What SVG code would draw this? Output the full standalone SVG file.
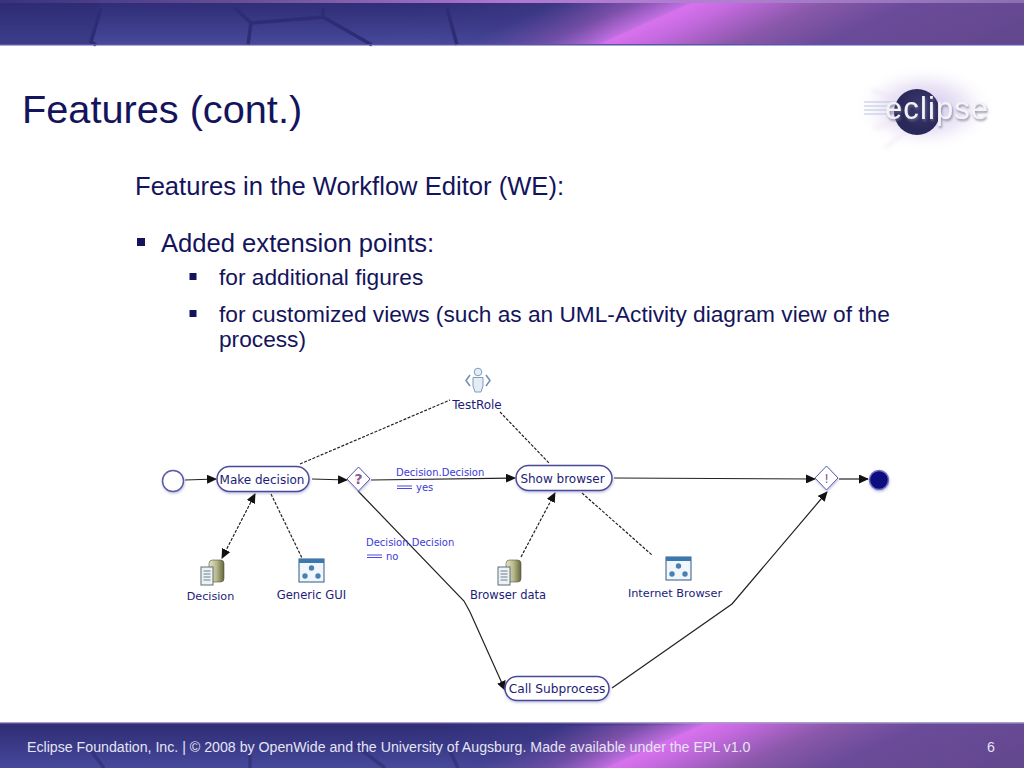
<svg xmlns="http://www.w3.org/2000/svg" width="1024" height="768" viewBox="0 0 1024 768">
<style>
.body{font-family:"Liberation Sans",Arial,sans-serif;fill:#14145c}
.lbl{font-family:"DejaVu Sans",Verdana,sans-serif;font-size:12px;fill:#1c1c78}
.cond{font-family:"DejaVu Sans",Verdana,sans-serif;font-size:10px;fill:#3a3ad8}
.pill{fill:#fff;stroke:#4a4a98;stroke-width:1.500;filter:url(#soft)}
.flow{fill:none;stroke:#222;stroke-width:1.200}
.dash{fill:none;stroke:#222;stroke-width:1.200;stroke-dasharray:3 1.500}
.dia{fill:#fff;stroke:#5a5aa8;stroke-width:1;filter:url(#soft)}
.crack{fill:none;stroke:#2e2c74;stroke-width:3.500}
.bullet{fill:#14145c}
</style>
<defs>
<marker id="arr" markerWidth="10" markerHeight="9" refX="9" refY="4.500" orient="auto" markerUnits="userSpaceOnUse"><path d="M0 0L10 4.500L0 9Z" fill="#111"/></marker>
<marker id="arrs" markerWidth="10" markerHeight="9" refX="1" refY="4.500" orient="auto" markerUnits="userSpaceOnUse"><path d="M10 0L0 4.500L10 9Z" fill="#111"/></marker>
<filter id="soft" x="-20%" y="-20%" width="140%" height="150%"><feDropShadow dx=".5" dy="1.500" stdDeviation="1" flood-color="#9a9ad0" flood-opacity=".6"/></filter>
<filter id="logoshadow" x="-10%" y="-20%" width="125%" height="150%"><feDropShadow dx="1" dy="2" stdDeviation="1.200" flood-color="#70708a" flood-opacity=".7"/></filter>
<filter id="blur2"><feGaussianBlur stdDeviation="2"/></filter>
<linearGradient id="band" gradientUnits="userSpaceOnUse" x1="605" y1="-78" x2="713" y2="162">
<stop offset="0" stop-color="#3a3784"/><stop offset=".2" stop-color="#3e3a88"/><stop offset=".325" stop-color="#7a50a8"/><stop offset=".41" stop-color="#c06ee0"/><stop offset=".418" stop-color="#d872ee"/><stop offset=".48" stop-color="#c66ae0"/><stop offset=".62" stop-color="#8a58aa"/><stop offset=".76" stop-color="#6a4b9a"/><stop offset="1" stop-color="#64488f"/>
</linearGradient>
<linearGradient id="footband" gradientUnits="userSpaceOnUse" x1="611" y1="646" x2="719" y2="886">
<stop offset="0" stop-color="#3a3784"/><stop offset=".2" stop-color="#3e3a88"/><stop offset=".325" stop-color="#7a50a8"/><stop offset=".41" stop-color="#c06ee0"/><stop offset=".418" stop-color="#d872ee"/><stop offset=".48" stop-color="#c66ae0"/><stop offset=".62" stop-color="#8a58aa"/><stop offset=".76" stop-color="#6a4b9a"/><stop offset="1" stop-color="#64488f"/>
</linearGradient>
<linearGradient id="shade" x1="0" y1="0" x2="0" y2="1"><stop offset="0" stop-color="#28266c" stop-opacity=".6"/><stop offset="1" stop-color="#4c50a4" stop-opacity=".75"/></linearGradient>
<linearGradient id="fade" x1="0" y1="0" x2="1" y2="0"><stop offset="0" stop-color="#fff"/><stop offset=".6" stop-color="#fff"/><stop offset=".85" stop-color="#000"/></linearGradient>
<mask id="fademask" maskContentUnits="userSpaceOnUse" maskUnits="userSpaceOnUse" x="0" y="0" width="1024" height="768"><rect x="0" y="0" width="720" height="768" fill="url(#fade)"/></mask>
<linearGradient id="topline" x1="0" y1="0" x2="1" y2="0"><stop offset="0" stop-color="#39337c"/><stop offset=".25" stop-color="#6a5098"/><stop offset=".5" stop-color="#b078d0"/><stop offset=".7" stop-color="#b080d0"/><stop offset="1" stop-color="#8a70b0"/></linearGradient>
<linearGradient id="footline" x1="0" y1="0" x2="1" y2="0"><stop offset="0" stop-color="#3c2c80" stop-opacity=".7"/><stop offset=".55" stop-color="#3c2c80" stop-opacity=".7"/><stop offset=".68" stop-color="#3c2c80" stop-opacity="0"/></linearGradient>
<radialGradient id="halo"><stop offset="0" stop-color="#c4b4e6" stop-opacity=".9"/><stop offset=".55" stop-color="#ded4f0" stop-opacity=".55"/><stop offset="1" stop-color="#fff" stop-opacity="0"/></radialGradient>
<radialGradient id="ball" cx=".6" cy=".4"><stop offset="0" stop-color="#3c3a72"/><stop offset="1" stop-color="#2a2858"/></radialGradient>
<linearGradient id="can" x1="0" y1="0" x2="1" y2="0"><stop offset="0" stop-color="#e4e4c8"/><stop offset=".5" stop-color="#b8b88c"/><stop offset="1" stop-color="#66663e"/></linearGradient>
<g id="db">
<rect x="8" y="0" width="15" height="22" rx="3.500" fill="url(#can)" stroke="#55553a" stroke-width=".6"/>
<rect x="0" y="7" width="12" height="18" fill="#eef2f4" stroke="#5a7078" stroke-width="1"/>
<path d="M2.500 11H9.500M2.500 14H9.500M2.500 17H9.500M2.500 20H9.500" stroke="#6a8090" stroke-width="1"/>
</g>
<g id="gui">
<rect x="0" y="0" width="25" height="23" fill="#f0f6fc" stroke="#2c5a88" stroke-width="1"/>
<rect x="0" y="0" width="25" height="4" fill="#3c78b0"/>
<circle cx="12.500" cy="9" r="2.700" fill="#4a80b0"/><circle cx="6" cy="17" r="2.700" fill="#4a80b0"/><circle cx="19" cy="17" r="2.700" fill="#4a80b0"/>
</g>
</defs>
<rect width="1024" height="768" fill="#fff"/>

<g id="header">
<rect width="1024" height="45" fill="url(#band)"/>
<rect width="720" height="45" fill="url(#shade)" mask="url(#fademask)"/>
<path d="M0 0H101L91 42L96 45H0Z" fill="#2c2a6c" opacity=".35"/>
<path d="M101 8L91 42L96 45M235 8L251 23L248 45M251 23L323 17L372 45M323 17V8M447 8L457 45" class="crack"/>
<rect width="1024" height="3" fill="url(#topline)"/>
<rect y="44" width="1024" height="1.500" fill="#5a54a8"/>
</g>

<g id="footer">
<rect y="722" width="1024" height="46" fill="url(#footband)"/>
<rect y="722" width="740" height="46" fill="url(#shade)" mask="url(#fademask)"/>
<path d="M104 768L92 752L110 745M250 768V745M355 745L385 768M447 745L458 768" class="crack" opacity=".6"/>
<rect y="722" width="1024" height="1.500" fill="#a8a0c8"/>
<rect y="723.500" width="1024" height="2" fill="url(#footline)"/>
<text x="27" y="752" class="body" font-size="14.180" style="fill:#e4e4f4">Eclipse Foundation, Inc. | © 2008 by OpenWide and the University of Augsburg. Made available under the EPL v1.0</text>
<text x="991" y="752" class="body" font-size="14.180" text-anchor="middle" style="fill:#e4e4f4">6</text>
</g>

<g id="logo">
<ellipse cx="925" cy="108" rx="72" ry="44" fill="url(#halo)"/>
<path d="M900 100L872 90M900 120L874 128M908 130L885 148" stroke="#ece2f2" stroke-width="2" fill="none" filter="url(#blur2)"/>
<path d="M864 102H905M864 106H905M864 110H905M864 114H905" stroke="#bcc4de" stroke-width="1"/>
<circle cx="917" cy="112" r="23" fill="url(#ball)"/>
<text x="885" y="119" font-family="'Liberation Sans',Arial,sans-serif" font-size="31" letter-spacing="1.100" fill="#f4f4f8" filter="url(#logoshadow)">eclipse</text>
</g>

<g id="slide-text">
<text x="22" y="123" class="body" font-size="39.700">Features (cont.)</text>
<text x="135" y="195" class="body" font-size="25.600">Features in the Workflow Editor (WE):</text>
<rect class="bullet" x="137" y="238" width="8" height="8"/>
<text x="161" y="252" class="body" font-size="25.600">Added extension points:</text>
<rect class="bullet" x="189.500" y="273" width="7" height="7"/>
<text x="219" y="285" class="body" font-size="22.700">for additional figures</text>
<rect class="bullet" x="189.500" y="310" width="7" height="7"/>
<text x="219" y="322" class="body" font-size="22.700">for customized views (such as an UML-Activity diagram view of the</text>
<text x="219" y="347" class="body" font-size="22.700">process)</text>
</g>

<g id="connectors">
<path class="flow" marker-end="url(#arr)" d="M185 480L216 479"/>
<path class="flow" marker-end="url(#arr)" d="M312 479L347 480"/>
<path class="flow" marker-end="url(#arr)" d="M371 480L515 478"/>
<path class="flow" marker-end="url(#arr)" d="M614 478L815 479"/>
<path class="flow" marker-end="url(#arr)" d="M839 479L868 479"/>
<path class="flow" marker-end="url(#arr)" d="M358 491L464 601L470 612L505 690"/>
<path class="flow" marker-end="url(#arr)" d="M612 688L732 604L827 492"/>
<path class="dash" marker-start="url(#arrs)" marker-end="url(#arr)" d="M255 494L222 558"/>
<path class="dash" d="M271 494L302 558"/>
<path class="dash" marker-end="url(#arr)" d="M521 557L555 493"/>
<path class="dash" d="M582 493L652 555"/>
<path class="dash" d="M300 464L450 400"/>
<path class="dash" d="M500 412L549 463"/>
</g>

<g id="start"><circle cx="173" cy="481" r="10.500" fill="#fff" stroke="#5a5aa8" stroke-width="1.500" filter="url(#soft)"/></g>
<g id="make-decision"><rect class="pill" x="217" y="466.500" width="92" height="25" rx="12.500"/><text class="lbl" x="262" y="484" text-anchor="middle">Make decision</text></g>
<g id="decision-gate"><path class="dia" d="M358.500 467L370 479L358.500 491L347 479Z"/><text x="358.500" y="484" text-anchor="middle" font-family="'DejaVu Sans',sans-serif" font-size="14" font-weight="bold" fill="#8a5a90">?</text></g>
<g id="show-browser"><rect class="pill" x="516" y="465.500" width="96" height="25" rx="12.500"/><text class="lbl" x="562.500" y="483" text-anchor="middle">Show browser</text></g>
<g id="merge-gate"><path class="dia" d="M826.500 466L838 478L826.500 490L815 478Z"/><text x="826.500" y="483" text-anchor="middle" font-family="'DejaVu Sans',sans-serif" font-size="13" fill="#8a5a90">!</text></g>
<g id="end"><circle cx="879" cy="480" r="9.500" fill="#0a0a80" stroke="#7070c0" stroke-width="1.500" filter="url(#soft)"/></g>
<g id="call-subprocess"><rect class="pill" x="505" y="676.500" width="104" height="24" rx="12"/><text class="lbl" x="557" y="693" text-anchor="middle" style="font-size:12.200px">Call Subprocess</text></g>

<g id="test-role">
<circle cx="478" cy="372" r="3.800" fill="#e4ecf4" stroke="#7f9fc0" stroke-width="1"/>
<path d="M473 377.500H483V386L481 392H475L473 386Z" fill="#e4ecf4" stroke="#7f9fc0" stroke-width="1"/>
<path d="M470 375L466 380.500L470 386M486 375L490 380.500L486 386" fill="none" stroke="#6f8fb0" stroke-width="1.500"/>
<text class="lbl" x="477" y="409" text-anchor="middle">TestRole</text>
</g>
<g id="decision-data"><use href="#db" x="201" y="560"/><text class="lbl" x="210.500" y="600" text-anchor="middle" style="font-size:11.200px">Decision</text></g>
<g id="generic-gui"><use href="#gui" x="299" y="559"/><text class="lbl" x="311.500" y="599" text-anchor="middle" style="font-size:11.600px">Generic GUI</text></g>
<g id="browser-data"><use href="#db" x="498" y="560"/><text class="lbl" x="508" y="599" text-anchor="middle" style="font-size:11.500px">Browser data</text></g>
<g id="internet-browser"><use href="#gui" x="666" y="557"/><text class="lbl" x="675" y="597" text-anchor="middle" style="font-size:11.300px">Internet Browser</text></g>

<g id="edge-labels">
<text class="cond" x="396" y="476">Decision.Decision</text>
<path d="M397 486H412M397 488.500H412" stroke="#4a4ae0" stroke-width="1.200"/>
<text class="cond" x="416" y="491">yes</text>
<text class="cond" x="366" y="546">Decision.Decision</text>
<path d="M367 555H382M367 557.500H382" stroke="#4a4ae0" stroke-width="1.200"/>
<text class="cond" x="386" y="560">no</text>
</g>
</svg>
